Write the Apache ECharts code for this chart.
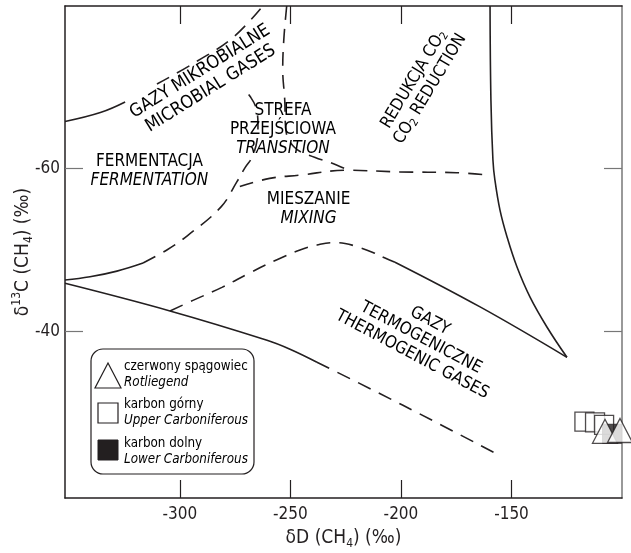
<!DOCTYPE html>
<html>
<head>
<meta charset="utf-8">
<script src="https://cdn.jsdelivr.net/npm/echarts@6/dist/echarts.min.js"></script>
<style>
html, body { margin: 0; padding: 0; background: #fff; }
#main { width: 631px; height: 553px; }
</style>
</head>
<body>
<div id="main"></div>
<script>
// dD vs d13C of methane, genetic fields
let xTicks = [-300, -250, -200, -150];
let yTicks = [-60, -40];

// field boundaries, [dD, d13C]
let microbialSolid = [[-352, -65.8], [-336, -66.9], [-324.8, -68.2]];
let microbialDashed = [[-310.4, -70.4], [-292.3, -73.2], [-276.1, -76.1], [-262.5, -80]];
let fermentSolid = [[-352, -46.3], [-340.7, -46.7], [-328.5, -47.4], [-316.7, -48.4]];
let fermentDashed = [[-316.7, -48.4], [-305.9, -50.0], [-296.4, -51.8], [-281.4, -55.3], [-274.2, -58.4],
  [-270.6, -60.1], [-267.4, -61.4], [-265.1, -63.5], [-264.7, -65.4], [-265.6, -67.5], [-268.3, -68.9], [-271.5, -69.9]];
let transitionEdge = [[-251.7, -80], [-253.0, -75.9], [-253.5, -72.2], [-252.6, -68.5], [-252.1, -64.8],
  [-248.1, -62.6], [-239.1, -61.4], [-231.4, -60.7], [-224.6, -59.9]];
let mixingTop = [[-272.9, -57.8], [-259.4, -58.8], [-245.8, -59.2], [-224.6, -59.8], [-200.7, -59.6], [-174.9, -59.5], [-160, -59.2]];
let co2Edge = [[-159.7, -80], [-159.3, -68.4], [-158.4, -61.1], [-157.5, -58.6], [-155.2, -54.9], [-152.0, -51.6],
  [-147.5, -47.9], [-141.6, -44.2], [-133.9, -40.5], [-124.9, -36.8]];
let mixingLowDashed = [[-304.5, -42.5], [-294.1, -43.8], [-281.0, -45.4], [-268.3, -47.2], [-256.1, -48.8], [-245.7, -50.0],
  [-238.0, -50.6], [-231.2, -50.9], [-225.3, -50.8], [-219.9, -50.4], [-212.7, -49.7], [-207.2, -49.0], [-202.7, -48.5]];
let mixingLowSolid = [[-202.7, -48.5], [-164.2, -43.0], [-124.9, -36.8]];
let thermoSolid = [[-352, -45.9], [-304.5, -42.5], [-260.6, -38.9], [-250.2, -37.8], [-238.0, -36.2]];
let thermoDashed = [[-238.0, -36.2], [-199.1, -30.9], [-156.5, -24.9]];

// samples
let rotliegend = [[-107.7, -27.7], [-100.9, -27.8]];
let upperCarb = [[-117.0, -28.9], [-112.2, -28.8], [-108.1, -28.5]];
let lowerCarb = [[-104.5, -27.4]];

let legendPl = ['czerwony spągowiec', 'karbon górny', 'karbon dolny'];
let legendEn = ['Rotliegend', 'Upper Carboniferous', 'Lower Carboniferous'];

const INK = '#231f20';
const FONT = "'Liberation Sans Narrow', 'Arial Narrow', 'DejaVu Sans Condensed', sans-serif";

let myChart = echarts.init(document.getElementById('main'));

function boundary(data, dashed) {
	return {
		type: 'line',
		data: data,
		symbol: 'none',
		smooth: 0.4,
		silent: true,
		animation: false,
		z: 1,
		lineStyle: { color: INK, width: 1.6, type: dashed ? [14, 9] : 'solid' }
	};
}

function frameAxis(pos, ticks, tickColor, extra) {
	return Object.assign({
		type: 'value',
		position: pos,
		axisLine: { onZero: false, lineStyle: { color: INK, width: 1.5 } },
		axisTick: { inside: true, length: 18, customValues: ticks, lineStyle: { color: tickColor, width: 1.2 } },
		axisLabel: { show: false },
		splitLine: { show: false }
	}, extra);
}

let nameRich = {
	n: { fontSize: 19, fontFamily: FONT, color: INK, lineHeight: 24 },
	s: { fontSize: 12, fontFamily: FONT, color: INK, lineHeight: 9, verticalAlign: 'bottom' },
	t: { fontSize: 12, fontFamily: FONT, color: INK, lineHeight: 12, verticalAlign: 'top' }
};
let tickLabel = { show: true, fontSize: 17, fontFamily: FONT, color: INK };

let option = {
	animation: false,
	backgroundColor: '#fff',
	grid: { left: 65, right: 9, top: 6, bottom: 55, outerBoundsMode: 'none', containLabel: false },
	xAxis: [
		frameAxis('bottom', xTicks, INK, {
			min: -352, max: -100,
			name: '{n|δD (CH}{s|4}{n|) (‰)}',
			nameLocation: 'middle', nameGap: 28, nameMoveOverlap: false,
			nameTextStyle: { rich: nameRich },
			axisLabel: Object.assign({ customValues: xTicks, margin: 8 }, tickLabel)
		}),
		frameAxis('top', xTicks, INK, { min: -352, max: -100 })
	],
	yAxis: [
		frameAxis('left', yTicks, '#777', {
			min: -80, max: -19.5, inverse: true,
			name: '{n|δ}{t|13}{n|C (CH}{s|4}{n|) (‰)}',
			nameLocation: 'middle', nameGap: 30, nameMoveOverlap: false,
			nameTextStyle: { rich: nameRich },
			axisLabel: Object.assign({ customValues: yTicks, margin: 5 }, tickLabel)
		}),
		frameAxis('right', yTicks, '#777', { min: -80, max: -19.5, inverse: true,
			axisLine: { onZero: false, lineStyle: { color: '#777', width: 1.5 } } })
	],
	series: [
		boundary(microbialSolid, false),
		boundary(microbialDashed, true),
		boundary(fermentSolid, false),
		boundary(fermentDashed, true),
		boundary(transitionEdge, true),
		boundary(mixingTop, true),
		boundary(co2Edge, false),
		boundary(mixingLowDashed, true),
		boundary(mixingLowSolid, false),
		boundary(thermoSolid, false),
		boundary(thermoDashed, true),
		{
			name: legendPl[1], type: 'scatter', data: upperCarb, symbol: 'rect', symbolSize: 19, clip: false, z: 3,
			itemStyle: { color: '#fff', borderColor: INK, borderWidth: 1.3 }
		},
		{
			name: legendPl[2], type: 'scatter', data: lowerCarb, symbol: 'rect', symbolSize: 19, clip: false, z: 3,
			itemStyle: { color: INK, borderColor: INK, borderWidth: 1 }
		},
		{
			name: legendPl[0], type: 'scatter', data: rotliegend, symbol: 'triangle', symbolSize: [25, 24], clip: false, z: 3,
			itemStyle: { color: '#fff', borderColor: INK, borderWidth: 1.3 }
		}
	]
};
myChart.setOption(option);

// field labels, anchored in data units
let txtRich = {
	p: { fontSize: 17, fontFamily: FONT, color: INK, lineHeight: 19 },
	q: { fontSize: 18, fontFamily: FONT, color: INK, lineHeight: 20 },
	i: { fontSize: 17, fontFamily: FONT, color: INK, lineHeight: 19, fontStyle: 'italic' },
	s: { fontSize: 11, fontFamily: FONT, color: INK, lineHeight: 8, verticalAlign: 'bottom' }
};
let fieldLabels = [
	{ at: [-313.8, -59.7], rot: 0, text: '{p|FERMENTACJA}\n{i|FERMENTATION}' },
	{ at: [-241.8, -55.0], rot: 0, text: '{p|MIESZANIE}\n{i|MIXING}' },
	{ at: [-253.4, -64.75], rot: 0, text: '{p|STREFA}\n{p|PRZEJŚCIOWA}\n{i|TRANSITION}' },
	{ at: [-288.5, -70.9], rot: 32, text: '{q|GAZY MIKROBIALNE}\n{q|MICROBIAL GASES}' },
	{ at: [-190.5, -70.4], rot: 59, text: '{p|REDUKCJA CO}{s|2}\n{p|CO}{s|2}{p| REDUCTION}' },
	{ at: [-190.9, -39.2], rot: -28, text: '{p|GAZY}\n{p|TERMOGENICZNE}\n{p|THERMOGENIC GASES}' }
];
let graphics = fieldLabels.map(function (l) {
	let p = myChart.convertToPixel({ xAxisIndex: 0, yAxisIndex: 0 }, l.at);
	return {
		type: 'text', x: p[0], y: p[1], rotation: l.rot * Math.PI / 180, z: 10,
		style: { text: l.text, rich: txtRich, align: 'center', verticalAlign: 'middle' }
	};
});

// legend panel
let legRich = {
	a: { fontSize: 13.3, fontFamily: FONT, color: INK, lineHeight: 16 },
	b: { fontSize: 13.3, fontFamily: FONT, color: INK, lineHeight: 16, fontStyle: 'italic' }
};
let legTops = [359, 397, 436];
graphics.push({
	type: 'rect', shape: { x: 91, y: 349, width: 163, height: 125, r: 12 }, z: 10,
	style: { fill: '#fff', stroke: INK, lineWidth: 1.2 }
});
graphics.push({
	type: 'polygon', shape: { points: [[95, 388], [121, 388], [108, 363]] }, z: 11,
	style: { fill: '#fff', stroke: INK, lineWidth: 1.2 }
});
graphics.push({
	type: 'rect', shape: { x: 98, y: 403, width: 20, height: 20 }, z: 11,
	style: { fill: '#fff', stroke: INK, lineWidth: 1.2 }
});
graphics.push({
	type: 'rect', shape: { x: 98, y: 440, width: 20, height: 20 }, z: 11,
	style: { fill: INK, stroke: INK, lineWidth: 1 }
});
legendPl.forEach(function (n, k) {
	graphics.push({
		type: 'text', x: 124, y: legTops[k], z: 11,
		style: { text: '{a|' + n + '}\n{b|' + legendEn[k] + '}', rich: legRich, align: 'left', verticalAlign: 'top' }
	});
});
myChart.setOption({ graphic: graphics });
</script>
</body>
</html>
